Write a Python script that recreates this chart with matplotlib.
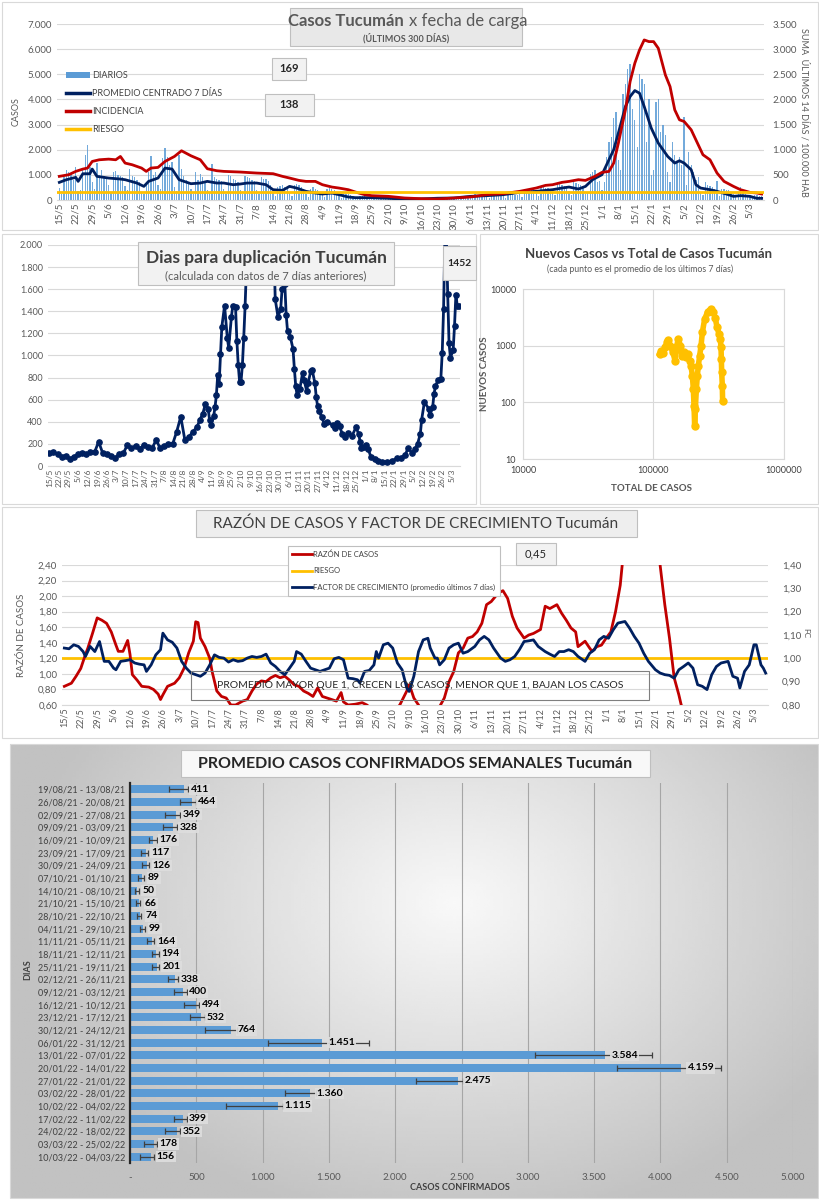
import matplotlib
matplotlib.use('Agg')
import matplotlib.pyplot as plt
import numpy as np
import pandas as pd
from matplotlib.patches import Rectangle, Patch
from matplotlib.lines import Line2D
from matplotlib.ticker import NullLocator

plt.rcParams['font.family'] = ['Lato', 'DejaVu Sans']

# ---------------- datos ----------------
inicio = pd.Timestamp('2021-05-15')

# casos diarios (300 dias desde 15/5/21)
diarios = [480, 250, 900, 1180, 1100, 1050, 800,
           1300, 350, 400, 1250, 1800, 2200, 1300,
           700, 450, 1480, 1000, 1200, 950, 900,
           600, 300, 1100, 1150, 1000, 950, 900,
           550, 400, 1250, 950, 900, 800, 700,
           300, 250, 700, 1100, 1750, 1000, 1100,
           600, 450, 1680, 2080, 1700, 1400, 1500,
           500, 350, 1800, 1250, 950, 800, 700,
           450, 250, 1100, 800, 1050, 900, 700,
           400, 300, 1430, 900, 850, 800, 750,
           420, 250, 1000, 950, 850, 800, 700,
           380, 250, 950, 900, 880, 800, 750,
           400, 250, 900, 820, 850, 750, 600,
           300, 150, 500, 550, 600, 500, 450,
           300, 150, 600, 650, 600, 500, 450,
           250, 120, 450, 500, 450, 400, 300,
           200, 100, 450, 480, 420, 380, 270,
           150, 60, 250, 230, 220, 180, 140,
           90, 40, 160, 150, 140, 130, 110,
           100, 50, 180, 160, 150, 130, 110,
           70, 30, 120, 110, 100, 100, 90,
           40, 20, 60, 60, 60, 55, 55,
           45, 25, 90, 80, 85, 70, 65,
           50, 30, 95, 90, 90, 85, 80,
           70, 35, 130, 120, 120, 115, 105,
           110, 60, 220, 200, 210, 180, 170,
           130, 70, 260, 250, 240, 210, 200,
           140, 80, 270, 260, 240, 210, 210,
           220, 120, 450, 420, 400, 380, 380,
           260, 150, 520, 500, 480, 460, 430,
           330, 180, 640, 620, 600, 550, 540,
           350, 200, 700, 680, 650, 600, 545,
           250, 300, 1050, 1100, 1200, 700, 750,
           400, 700, 1700, 2300, 2500, 3250, 3500,
           1600, 1200, 4200, 4600, 5200, 5400, 3600,
           3200, 2100, 5000, 4800, 4600, 2300, 4000,
           1000, 1200, 3900, 4000, 2700, 3000, 2600,
           1100, 700, 2300, 1800, 1500, 1700, 1400,
           3300, 600, 1900, 1400, 1100, 800, 900,
           300, 200, 700, 600, 550, 500, 450,
           750, 150, 450, 420, 400, 380, 300,
           250, 100, 300, 500, 260, 240, 200,
           150, 80, 200, 180, 170, 169]

# promedio centrado 7 dias (dia desde 15/5, casos)
prom_dias = [0, 3, 7, 8, 10, 13, 14, 16, 21, 26, 28, 33, 36, 38, 42, 45, 48, 51, 56, 60,
             63, 67, 70, 74, 77, 80, 84, 88, 91, 95, 98, 101, 105, 109, 112, 116, 119, 123,
             126, 133, 140, 147, 154, 161, 168, 175, 182, 189, 196, 203, 210, 214, 217, 221,
             224, 227, 231, 234, 236, 238, 241, 243, 245, 247, 249, 252, 255, 259, 262, 264,
             266, 269, 271, 273, 277, 280, 284, 287, 290, 294, 297, 299]
prom_vals = [701, 807, 900, 741, 1045, 1045, 1230, 940, 873, 833, 807, 675, 542, 741, 873,
             1270, 1230, 807, 648, 675, 741, 675, 675, 608, 635, 675, 675, 608, 410, 383,
             542, 476, 344, 278, 238, 278, 212, 119, 93, 93, 66, 40, 45, 70, 80, 145, 172,
             212, 304, 344, 410, 476, 516, 437, 542, 807, 1006, 1601, 1998, 2660, 3718, 4115,
             4353, 4248, 3718, 2858, 2263, 1733, 1469, 1561, 1469, 1204, 609, 476, 410, 344,
             238, 145, 172, 145, 66, 66]

# incidencia: suma ultimos 14 dias / 100.000 hab
inc_dias = [0, 4, 7, 10, 12, 14, 17, 21, 24, 26, 28, 31, 35, 37, 39, 42, 45, 49, 52, 56,
            60, 63, 67, 70, 77, 84, 91, 95, 98, 102, 105, 109, 112, 116, 119, 123, 126, 130,
            133, 140, 147, 154, 161, 168, 175, 182, 189, 196, 203, 207, 210, 214, 217, 221,
            224, 228, 231, 234, 236, 238, 241, 243, 245, 247, 249, 251, 253, 255, 258, 260,
            262, 264, 266, 269, 271, 274, 277, 280, 283, 287, 290, 294, 297, 299]
inc_vals = [470, 503, 569, 615, 635, 767, 800, 813, 800, 866, 734, 701, 635, 569, 635, 648,
            767, 866, 979, 880, 800, 622, 582, 569, 556, 536, 523, 470, 437, 390, 370, 370,
            304, 258, 238, 205, 159, 106, 86, 73, 40, 26, 20, 40, 60, 106, 126, 172, 238,
            291, 304, 351, 370, 404, 390, 470, 549, 569, 734, 1131, 1793, 2356, 2720, 2984,
            3183, 3150, 3150, 3017, 2488, 2256, 1793, 1595, 1561, 1396, 1197, 900, 800, 536,
            370, 271, 205, 152, 139, 119]
riesgo_inc = 150

# dias para duplicacion
dup_dias = [0, 3, 6, 9, 12, 15, 18, 21, 24, 27, 30, 33, 36, 39, 42, 45, 48, 51, 54, 57,
            60, 63, 66, 69, 72, 75, 78, 81, 84, 87, 90, 93, 96, 99, 102, 105, 108,
            110, 112, 114, 116, 117, 118, 120, 121, 122, 123, 124, 125, 126, 128, 130, 131,
            133, 134, 136, 137, 138, 139, 140, 141, 142, 143, 144, 146, 150, 155, 160, 163,
            165, 167, 169, 170, 172, 173, 174, 176, 178, 179, 180, 181, 183, 185, 186, 188,
            189, 191, 192, 194, 195, 196, 197, 199, 201, 203, 207, 209, 210, 212, 214, 216,
            218, 221, 224, 226, 227, 228, 230, 231, 233, 235, 238, 240, 243, 247, 250, 254,
            257, 260, 262, 265, 267, 269, 271, 272, 274, 277, 278, 280, 281, 282, 284, 286,
            287, 288, 289, 290, 291, 292, 293, 295, 296, 297, 298, 299]
dup_vals = [115, 130, 105, 85, 95, 63, 85, 105, 115, 105, 124, 124, 220, 115, 105, 95, 70,
            105, 115, 190, 160, 184, 154, 190, 175, 160, 235, 160, 184, 196, 196, 310, 446,
            235, 265, 310, 356,
            420, 470, 560, 520, 420, 370, 450, 530, 640, 825, 740, 1010, 1260, 1450, 1160,
            1070, 1350, 1450, 1440, 1130, 910, 760, 760, 910, 1160, 1450, 1800, 2600, 3500,
            4000, 3500, 2500, 1510, 1350, 1420, 1600, 1650, 1370, 1220, 1170, 1060, 880,
            720, 640, 700, 840, 780, 680, 750, 860, 870, 750, 620, 540, 500, 440, 380, 400,
            370, 340, 390, 360, 290, 260, 300, 270, 350, 290, 220, 160, 170, 190, 150, 80,
            60, 45, 35, 35, 45, 70, 75, 100, 160, 120, 150, 200, 290, 420, 580, 520, 460,
            530, 650, 720, 780, 790, 1020, 1420, 2100, 2100, 1560, 1110, 980, 1050, 1270,
            1550, 1450, 1452]

# nuevos casos (promedio 7 dias) vs total de casos
total_casos = [111500, 114800, 118300, 122500, 126900, 130000, 134600, 141000, 146200,
               149600, 155000, 160600, 164400, 170300, 176300, 182700, 189300, 193800,
               198500, 202000, 204400, 206700, 209200, 213000, 216700, 220600, 225900,
               231400, 236800, 246600, 260100, 274200, 285700, 297800, 306800, 317800,
               325200, 329000, 331100, 333000, 336700, 338500]
nuevos_casos = [713, 816, 743, 935, 1145, 1276, 1000, 762, 543, 935, 1312, 1000, 667, 762,
                622, 713, 543, 444, 296, 172, 87, 39, 76, 172, 296, 444, 667, 1000, 1717,
                2955, 3980, 4440, 3980, 3030, 2107, 1607, 1311, 935, 582, 338, 197, 107]

# razon de casos y factor de crecimiento
raz_dias = [0, 3, 5, 7, 9, 10, 12, 14, 16, 18, 20, 22, 23, 25, 27, 28, 29, 31, 33, 36, 38,
            40, 41, 42, 44, 47, 49, 51, 53, 55, 56, 57, 58, 60, 62, 63, 65, 67, 69, 71, 73,
            76, 78, 80, 82, 84, 86, 88, 90, 92, 94, 96, 98, 100, 102, 104, 106, 108, 110,
            112, 114, 116, 118, 119, 121, 124, 127, 129, 131, 134, 137, 140, 143, 146, 147,
            148, 149, 151, 154, 157, 160, 162, 164, 166, 168, 170, 172, 174, 176, 178, 180,
            182, 185, 187, 189, 191, 193, 196, 198, 200, 203, 205, 207, 210, 212, 214, 216,
            218, 219, 222, 224, 225, 227, 229, 231, 233, 235, 237, 238, 241, 245, 249, 253,
            254, 256, 258, 260, 262, 263, 266, 272, 280, 290, 299]
raz_vals = [0.84, 0.88, 0.97, 1.07, 1.25, 1.33, 1.52, 1.72, 1.69, 1.65, 1.54, 1.37, 1.29,
            1.29, 1.43, 1.25, 0.99, 0.92, 0.84, 0.83, 0.80, 0.74, 0.67, 0.73, 0.84, 0.88,
            0.95, 1.07, 1.27, 1.42, 1.67, 1.66, 1.46, 1.35, 1.20, 1.03, 0.78, 0.71, 0.69,
            0.60, 0.60, 0.65, 0.67, 0.78, 0.87, 0.91, 0.90, 0.95, 0.98, 0.95, 0.97, 0.92,
            0.86, 0.84, 0.78, 0.75, 0.71, 0.82, 0.71, 0.69, 0.67, 0.65, 0.76, 0.64, 0.60,
            0.61, 0.63, 0.60, 0.55, 0.45, 0.42, 0.50, 0.60, 0.78, 0.86, 0.78, 0.69, 0.60,
            0.45, 0.55, 0.58, 0.69, 0.90, 1.03, 1.27, 1.33, 1.46, 1.48, 1.54, 1.65, 1.89,
            1.93, 2.04, 2.07, 1.97, 1.74, 1.59, 1.46, 1.50, 1.52, 1.57, 1.87, 1.84, 1.89,
            1.78, 1.69, 1.59, 1.54, 1.35, 1.42, 1.33, 1.29, 1.35, 1.37, 1.46, 1.54, 1.80,
            2.14, 2.45, 3.20, 3.80, 3.50, 2.70, 2.40, 1.89, 1.46, 0.95, 0.73, 0.60, 0.45,
            0.40, 0.42, 0.45, 0.45]
fc_dias = [0, 2, 4, 6, 8, 9, 11, 13, 15, 17, 19, 21, 22, 24, 26, 28, 30, 32, 34, 35, 37,
           39, 41, 42, 44, 46, 48, 50, 52, 54, 56, 58, 60, 62, 64, 66, 68, 70, 72, 74, 76,
           78, 80, 82, 84, 86, 88, 90, 92, 94, 96, 98, 99, 101, 103, 105, 107, 109, 111,
           113, 115, 117, 119, 121, 123, 125, 126, 128, 130, 132, 133, 134, 136, 138, 140,
           142, 144, 146, 147, 149, 151, 153, 155, 156, 158, 159, 160, 162, 164, 166, 168,
           170, 172, 175, 177, 179, 181, 183, 186, 188, 190, 192, 194, 196, 198, 200, 202,
           205, 207, 209, 211, 213, 215, 217, 219, 222, 224, 226, 228, 230, 232, 234, 236,
           239, 241, 243, 245, 247, 249, 252, 254, 256, 258, 260, 262, 264, 266, 268, 270,
           272, 274, 276, 278, 280, 283, 285, 287, 288, 290, 292, 294, 295, 297, 298, 299]
fc_vals = [1.044, 1.041, 1.058, 1.051, 1.029, 1.008, 1.051, 1.029, 1.072, 0.987, 0.987,
           0.958, 0.951, 0.987, 0.990, 0.994, 0.980, 0.975, 0.972, 0.944, 0.972, 1.015,
           1.037, 1.108, 1.079, 1.069, 1.044, 0.987, 0.958, 0.937, 0.930, 0.923, 0.937,
           0.972, 1.015, 1.004, 1.001, 0.984, 0.994, 0.987, 0.990, 1.001, 1.008, 1.004,
           1.008, 1.018, 0.980, 0.965, 0.944, 0.930, 0.958, 0.987, 1.029, 1.018, 0.987,
           0.958, 0.951, 0.944, 0.951, 0.958, 0.998, 1.004, 0.994, 0.915, 0.913, 0.908,
           0.894, 0.944, 0.948, 0.972, 1.029, 1.001, 1.058, 1.065, 1.044, 0.980, 0.951,
           0.873, 0.858, 0.923, 1.029, 1.079, 1.086, 1.044, 1.001, 1.001, 0.972, 0.994,
           1.044, 1.058, 1.065, 1.022, 1.029, 1.051, 1.079, 1.094, 1.079, 1.044, 1.001,
           0.987, 0.994, 1.008, 1.037, 1.072, 1.075, 1.079, 1.051, 1.029, 1.018, 1.008,
           1.029, 1.029, 1.037, 1.029, 1.008, 0.987, 1.022, 1.037, 1.079, 1.094, 1.086,
           1.122, 1.151, 1.158, 1.129, 1.094, 1.065, 1.022, 0.987, 0.951, 0.937, 0.930,
           0.927, 0.915, 0.951, 0.965, 0.980, 0.958, 0.887, 0.880, 0.866, 0.930, 0.965,
           0.980, 0.987, 0.923, 0.915, 0.873, 0.944, 0.972, 1.058, 1.058, 0.972, 0.958,
           0.937]
riesgo_raz = 1.2

# promedio semanal
semanas = ['19/08/21 - 13/08/21', '26/08/21 - 20/08/21', '02/09/21 - 27/08/21',
           '09/09/21 - 03/09/21', '16/09/21 - 10/09/21', '23/09/21 - 17/09/21',
           '30/09/21 - 24/09/21', '07/10/21 - 01/10/21', '14/10/21 - 08/10/21',
           '21/10/21 - 15/10/21', '28/10/21 - 22/10/21', '04/11/21 - 29/10/21',
           '11/11/21 - 05/11/21', '18/11/21 - 12/11/21', '25/11/21 - 19/11/21',
           '02/12/21 - 26/11/21', '09/12/21 - 03/12/21', '16/12/21 - 10/12/21',
           '23/12/21 - 17/12/21', '30/12/21 - 24/12/21', '06/01/22 - 31/12/21',
           '13/01/22 - 07/01/22', '20/01/22 - 14/01/22', '27/01/22 - 21/01/22',
           '03/02/22 - 28/01/22', '10/02/22 - 04/02/22', '17/02/22 - 11/02/22',
           '24/02/22 - 18/02/22', '03/03/22 - 25/02/22', '10/03/22 - 04/03/22']
sem_vals = [411, 464, 349, 328, 176, 117, 126, 89, 50, 66, 74, 99, 164, 194, 201, 338, 400,
            494, 532, 764, 1451, 3584, 4159, 2475, 1360, 1115, 399, 352, 178, 156]
sem_err_lo = [120, 87, 83, 82, 35, 34, 36, 29, 15, 19, 22, 27, 36, 28, 35, 52, 71, 90, 77,
              196, 410, 530, 486, 318, 189, 389, 65, 86, 75, 78]
sem_err_hi = [30, 30, 25, 25, 25, 20, 20, 15, 15, 10, 10, 15, 20, 25, 20, 25, 30, 30, 30,
              40, 348, 353, 298, 40, 40, 40, 30, 25, 25, 25]

# ---------------- estilo ----------------
AZUL = '#5B9BD5'
NAVY = '#002060'
ROJO = '#C00000'
NARANJA = '#FFC000'
GRIS = '#595959'
GRID = '#d9d9d9'
W, H = 820, 1200


def frect(x0, y0, x1, y1):
    return [x0 / W, 1 - y1 / H, (x1 - x0) / W, (y1 - y0) / H]


def fx(x):
    return x / W


def fy(y):
    return 1 - y / H


def miles(v):
    return f'{v:,.0f}'.replace(',', '.')


def caja(fig, x0, y0, x1, y1, fc='#f2f2f2', ec='#bfbfbf', lw=0.8):
    r = Rectangle((fx(x0), fy(y1)), (x1 - x0) / W, (y1 - y0) / H, transform=fig.transFigure,
                  facecolor=fc, edgecolor=ec, lw=lw)
    fig.add_artist(r)


tick_days = list(range(0, 300, 7))
tick_lbl = []
for d in tick_days:
    f = inicio + pd.Timedelta(days=d)
    tick_lbl.append(f'{f.day}/{f.month}')


def fechas(ax, size):
    ax.set_xticks(tick_days)
    ax.set_xticklabels(tick_lbl, rotation=90, fontsize=size, color=GRIS)
    ax.tick_params(axis='x', length=0, pad=2)
    ax.set_xlim(-1, 300)


fig = plt.figure(figsize=(8.2, 12), dpi=100)

# marcos de los paneles
caja(fig, 2, 2, 818, 230, fc='none', ec=GRID)
caja(fig, 2, 234, 476, 504, fc='none', ec=GRID)
caja(fig, 480, 234, 818, 504, fc='none', ec=GRID)
caja(fig, 2, 507, 818, 738, fc='none', ec=GRID)

# ================= panel 1: casos diarios =================
ax1 = fig.add_axes(frect(57, 24, 764, 200))
ax1.bar(range(len(diarios)), diarios, width=0.55, color=AZUL, alpha=0.85, zorder=2)
ax1.plot(prom_dias, prom_vals, color=NAVY, lw=2, zorder=3)
ax1.set_ylim(0, 7000)
ax1.set_yticks(range(0, 7001, 1000))
ax1.set_yticklabels([miles(v) for v in range(0, 7001, 1000)])
ax1.tick_params(axis='y', length=0, labelsize=7, labelcolor=GRIS)
ax1.grid(axis='y', color=GRID, lw=0.8)
ax1.set_axisbelow(True)
for s in ['top', 'left', 'right']:
    ax1.spines[s].set_visible(False)
ax1.spines['bottom'].set_color(GRID)
fechas(ax1, 7)

ax1b = ax1.twinx()
ax1b.plot(inc_dias, inc_vals, color=ROJO, lw=2, zorder=3)
ax1b.axhline(riesgo_inc, color=NARANJA, lw=2, zorder=4)
ax1b.set_ylim(0, 3500)
ax1b.set_yticks(range(0, 3501, 500))
ax1b.set_yticklabels([miles(v) for v in range(0, 3501, 500)])
ax1b.tick_params(axis='y', length=0, labelsize=7, labelcolor=GRIS, pad=6)
for s in ax1b.spines.values():
    s.set_visible(False)

fig.text(fx(16), fy(112), 'CASOS', rotation=90, fontsize=6.5, color=GRIS, ha='center', va='center')
fig.text(fx(804), fy(112), 'SUMA  ÚLTIMOS 14 DÍAS / 100.000 HAB', rotation=270, fontsize=6.5,
         color=GRIS, ha='center', va='center')

caja(fig, 290, 8, 522, 46, fc='#e8e8e8')
fig.text(fx(404), fy(21), 'Casos Tucumán', fontsize=12, fontweight='bold', color=GRIS,
         ha='right', va='center')
fig.text(fx(409), fy(21), 'x fecha de carga', fontsize=12, color=GRIS, ha='left', va='center')
fig.text(fx(406), fy(38), '(ÚLTIMOS 300 DÍAS)', fontsize=6.5, fontweight='bold', color=GRIS,
         ha='center', va='center')

h1 = [Patch(facecolor=AZUL), Line2D([], [], color=NAVY, lw=2.5),
      Line2D([], [], color=ROJO, lw=2.5), Line2D([], [], color=NARANJA, lw=2.5)]
fig.legend(h1, ['DIARIOS', 'PROMEDIO CENTRADO 7 DÍAS', 'INCIDENCIA', 'RIESGO'],
           loc='upper left', bbox_to_anchor=(fx(58), fy(63)), frameon=False, fontsize=6.5,
           handlelength=2.6, handleheight=0.7, labelspacing=1.0, handletextpad=0.3,
           labelcolor='#404040')

caja(fig, 272, 58, 306, 80)
fig.text(fx(289), fy(69), '169', fontsize=8, fontweight='bold', color='#262626',
         ha='center', va='center')
caja(fig, 265, 94, 314, 116)
fig.text(fx(289), fy(105), '138', fontsize=8, fontweight='bold', color='#262626',
         ha='center', va='center')

# ================= panel 2: dias para duplicacion =================
ax2 = fig.add_axes(frect(48, 245, 460, 466))
ax2.plot(dup_dias, dup_vals, '-o', color=NAVY, lw=2, ms=3.8, zorder=3)
ax2.set_ylim(0, 2000)
ax2.set_yticks(range(0, 2001, 200))
ax2.set_yticklabels([miles(v) for v in range(0, 2001, 200)])
ax2.tick_params(axis='y', length=0, labelsize=6.5, labelcolor=GRIS)
ax2.grid(axis='y', color=GRID, lw=0.8)
ax2.set_axisbelow(True)
for s in ['top', 'left', 'right']:
    ax2.spines[s].set_visible(False)
ax2.spines['bottom'].set_color(GRID)
fechas(ax2, 6)

caja(fig, 138, 242, 394, 285)
fig.text(fx(266), fy(258), 'Dias para duplicación Tucumán', fontsize=12.5, fontweight='bold',
         color='#404040', ha='center', va='center')
fig.text(fx(266), fy(276), '(calculada con datos de 7 días anteriores)', fontsize=8,
         color=GRIS, ha='center', va='center')
caja(fig, 443, 246, 476, 280)
fig.text(fx(459), fy(263), '1452', fontsize=7.5, fontweight='bold', color='#262626',
         ha='center', va='center')

# ================= panel 3: nuevos vs total =================
ax3 = fig.add_axes(frect(523, 289, 784, 459))
ax3.set_xscale('log')
ax3.set_yscale('log')
ax3.plot(total_casos, nuevos_casos, '-o', color=NARANJA, lw=4, ms=5, zorder=3)
ax3.set_xlim(1e4, 1e6)
ax3.set_ylim(10, 1e4)
ax3.set_xticks([1e4, 1e5, 1e6])
ax3.set_xticklabels(['10000', '100000', '1000000'])
ax3.set_yticks([10, 100, 1000, 10000])
ax3.set_yticklabels(['10', '100', '1000', '10000'])
ax3.xaxis.set_minor_locator(NullLocator())
ax3.yaxis.set_minor_locator(NullLocator())
ax3.tick_params(length=0, labelsize=6.5, labelcolor='#404040', pad=5)
ax3.grid(color=GRID, lw=0.8)
ax3.set_axisbelow(True)
for s in ax3.spines.values():
    s.set_color(GRID)
fig.text(fx(649), fy(254), 'Nuevos Casos vs Total de Casos Tucumán', fontsize=9.5,
         fontweight='bold', color='#404040', ha='center', va='center')
fig.text(fx(640), fy(269), '(cada punto es el promedio de los últimos 7 días)', fontsize=6.3,
         color=GRIS, ha='center', va='center')
fig.text(fx(652), fy(488), 'TOTAL DE CASOS', fontsize=7, fontweight='bold', color=GRIS,
         ha='center', va='center')
fig.text(fx(485), fy(374), 'NUEVOS CASOS', fontsize=7, fontweight='bold', color=GRIS,
         rotation=90, ha='center', va='center')

# ================= panel 4: razon y factor de crecimiento =================
ax4 = fig.add_axes(frect(62, 565, 768, 705))
ax4.plot(raz_dias, raz_vals, color=ROJO, lw=2, zorder=3)
ax4.axhline(riesgo_raz, color=NARANJA, lw=2, zorder=2)
ax4.set_ylim(0.6, 2.4)
yt = np.round(np.arange(0.6, 2.41, 0.2), 2)
ax4.set_yticks(yt)
ax4.set_yticklabels([f'{v:.2f}'.replace('.', ',') for v in yt])
ax4.tick_params(axis='y', length=0, labelsize=7, labelcolor=GRIS)
ax4.grid(axis='y', color=GRID, lw=0.8)
ax4.set_axisbelow(True)
for s in ['top', 'left', 'right']:
    ax4.spines[s].set_visible(False)
ax4.spines['bottom'].set_color(GRID)
fechas(ax4, 6.5)

ax4b = ax4.twinx()
ax4b.plot(fc_dias, fc_vals, color=NAVY, lw=2, zorder=3)
ax4b.set_ylim(0.8, 1.4)
yt2 = np.round(np.arange(0.8, 1.41, 0.1), 2)
ax4b.set_yticks(yt2)
ax4b.set_yticklabels([f'{v:.2f}'.replace('.', ',') for v in yt2])
ax4b.tick_params(axis='y', length=0, labelsize=7, labelcolor=GRIS, pad=10)
for s in ax4b.spines.values():
    s.set_visible(False)

fig.text(fx(22), fy(635), 'RAZÓN DE CASOS', rotation=90, fontsize=7, color=GRIS,
         ha='center', va='center')
fig.text(fx(806), fy(633), 'FC', rotation=270, fontsize=6, color=GRIS, ha='center', va='center')

caja(fig, 196, 510, 637, 537, fc='#eeeeee')
fig.text(fx(416), fy(524), 'RAZÓN DE CASOS Y FACTOR DE CRECIMIENTO Tucumán', fontsize=11,
         color='#404040', ha='center', va='center')

h4 = [Line2D([], [], color=ROJO, lw=2), Line2D([], [], color=NARANJA, lw=2),
      Line2D([], [], color=NAVY, lw=2)]
leg4 = fig.legend(h4, ['RAZÓN DE CASOS', 'RIESGO', 'FACTOR DE CRECIMIENTO (promedio últimos 7 días)'],
                  loc='upper left', bbox_to_anchor=(fx(284), fy(542)), frameon=True,
                  fancybox=False, edgecolor='#bfbfbf', framealpha=1, fontsize=5.5,
                  handlelength=2.6, labelspacing=1.25, handletextpad=0.1, borderpad=0.6,
                  labelcolor='#404040')
leg4.get_frame().set_linewidth(0.8)

caja(fig, 516, 543, 556, 565)
fig.text(fx(536), fy(554), '0,45', fontsize=8, color='#262626', ha='center', va='center')

caja(fig, 191, 671, 649, 700, fc='none', ec='#7f7f7f')
fig.text(fx(420), fy(686), 'PROMEDIO MAYOR QUE 1, CRECEN LOS CASOS, MENOR QUE 1, BAJAN LOS CASOS',
         fontsize=7.5, color='#262626', ha='center', va='center')

# ================= panel 5: promedio semanal =================
axbg = fig.add_axes(frect(10, 744, 818, 1198), zorder=-1)
gx, gy = np.meshgrid(np.linspace(0, 1, 240), np.linspace(0, 1, 160))
dist = np.sqrt(((gx - 0.55) / 0.75) ** 2 + ((gy - 0.35) / 1.0) ** 2)
fondo = np.clip(0.975 - 0.3 * dist, 0.76, 0.975)
axbg.imshow(fondo, cmap='gray', vmin=0, vmax=1, aspect='auto', extent=[0, 1, 0, 1])
axbg.axis('off')
caja(fig, 10, 744, 818, 1198, fc='none', ec=GRID)

ax5 = fig.add_axes(frect(130, 783, 793, 1163))
ax5.set_facecolor('none')
pos = np.arange(len(sem_vals))
ax5.barh(pos, sem_vals, height=0.62, color=AZUL, zorder=2,
         xerr=[sem_err_lo, sem_err_hi],
         error_kw=dict(ecolor='#404040', elinewidth=0.9, capsize=2, capthick=0.9, zorder=3))
for i, v in enumerate(sem_vals):
    ax5.text(v + 45, i, miles(v), ha='left', va='center', fontsize=7.5, fontweight='bold',
             color='black', zorder=5,
             bbox=dict(facecolor='#dedede', edgecolor='none', pad=0.8, alpha=0.9))
ax5.set_ylim(len(sem_vals) - 0.5, -0.5)
ax5.set_xlim(0, 5000)
ax5.set_yticks(pos)
ax5.set_yticklabels(semanas, fontsize=6.5, color='#404040')
ax5.set_xticks(range(0, 5001, 500))
ax5.set_xticklabels(['-'] + [miles(v) for v in range(500, 5001, 500)], fontsize=7, color=GRIS)
ax5.tick_params(length=0)
ax5.tick_params(axis='x', pad=7)
ax5.grid(axis='x', color='#a6a6a6', lw=0.8)
ax5.set_axisbelow(True)
for s in ['top', 'right', 'bottom']:
    ax5.spines[s].set_visible(False)
ax5.spines['left'].set_color('#262626')
ax5.spines['left'].set_linewidth(1.6)
fig.text(fx(460), fy(1187), 'CASOS CONFIRMADOS', fontsize=6.5, fontweight='bold', color='#404040',
         ha='center', va='center')
fig.text(fx(28), fy(970), 'DIAS', fontsize=6.5, fontweight='bold', color='#404040', rotation=90,
         ha='center', va='center')

caja(fig, 181, 750, 650, 777, fc='#f8f8f8')
fig.text(fx(415), fy(764), 'PROMEDIO CASOS CONFIRMADOS SEMANALES Tucumán', fontsize=11.5,
         fontweight='bold', color='#262626', ha='center', va='center')

fig.savefig('out.png', dpi=100)
